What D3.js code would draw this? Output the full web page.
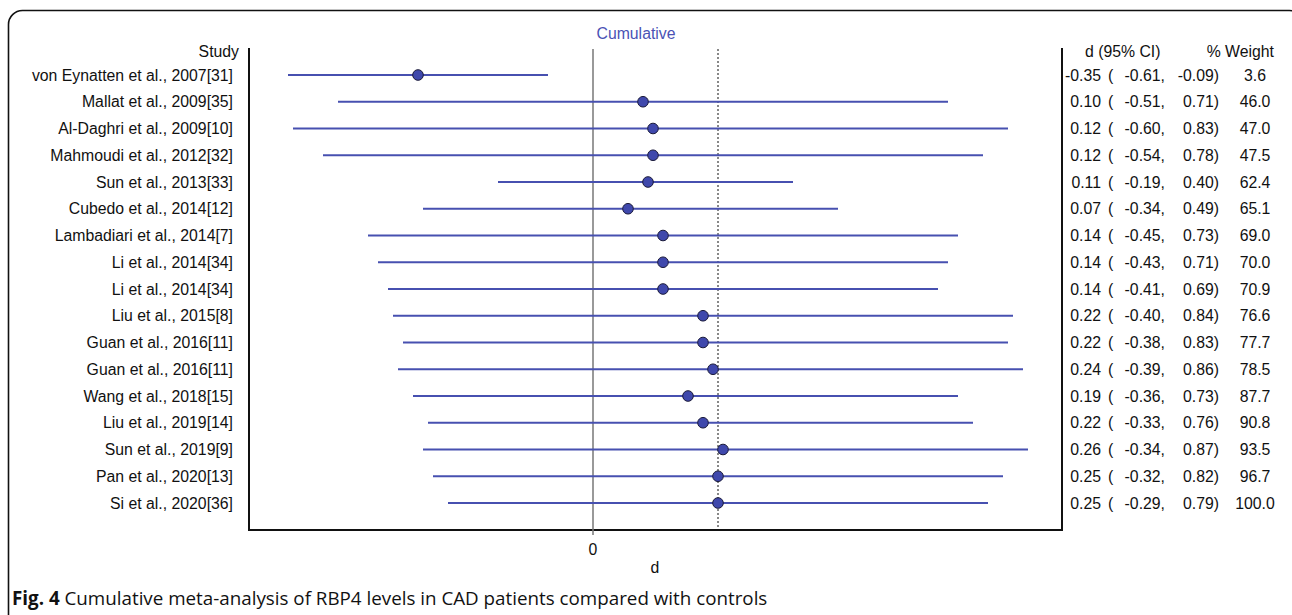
<!DOCTYPE html>
<html>
<head>
<meta charset="utf-8">
<script src="https://cdn.jsdelivr.net/npm/d3@7"></script>
<style>
  body { margin: 0; background: #fff; }
  svg { display: block; }
</style>
</head>
<body>
<div id="container"></div>
<script>
// data
const studies = [
  "von Eynatten et al., 2007[31]", "Mallat et al., 2009[35]", "Al-Daghri et al., 2009[10]",
  "Mahmoudi et al., 2012[32]", "Sun et al., 2013[33]", "Cubedo et al., 2014[12]",
  "Lambadiari et al., 2014[7]", "Li et al., 2014[34]", "Li et al., 2014[34]",
  "Liu et al., 2015[8]", "Guan et al., 2016[11]", "Guan et al., 2016[11]",
  "Wang et al., 2018[15]", "Liu et al., 2019[14]", "Sun et al., 2019[9]",
  "Pan et al., 2020[13]", "Si et al., 2020[36]"
];
const dValues = [-0.35, 0.10, 0.12, 0.12, 0.11, 0.07, 0.14, 0.14, 0.14, 0.22, 0.22, 0.24, 0.19, 0.22, 0.26, 0.25, 0.25];
const lower   = [-0.61, -0.51, -0.60, -0.54, -0.19, -0.34, -0.45, -0.43, -0.41, -0.40, -0.38, -0.39, -0.36, -0.33, -0.34, -0.32, -0.29];
const upper   = [-0.09, 0.71, 0.83, 0.78, 0.40, 0.49, 0.73, 0.71, 0.69, 0.84, 0.83, 0.86, 0.73, 0.76, 0.87, 0.82, 0.79];
const weights = [3.6, 46.0, 47.0, 47.5, 62.4, 65.1, 69.0, 70.0, 70.9, 76.6, 77.7, 78.5, 87.7, 90.8, 93.5, 96.7, 100.0];
const overall = 0.25;
const xTicks = [0];

const rows = studies.map((s, i) => ({
  study: s, d: dValues[i], lo: lower[i], hi: upper[i], w: weights[i], i
}));

const width = 1292;
const height = 615;
const font = "'Liberation Sans', Arial, sans-serif";
const fontSize = 15.8;
const blue = "#4750b0";

const svg = d3.select("#container").append("svg")
  .attr("width", width)
  .attr("height", height);

// outer rounded frame
svg.append("rect")
  .attr("x", 8.5).attr("y", 10.5)
  .attr("width", 1295).attr("height", 640)
  .attr("rx", 14)
  .attr("fill", "none")
  .attr("stroke", "#111")
  .attr("stroke-width", 1.6);

// layout
const plot = { left: 249, right: 1062, top: 48, bottom: 530 };

// scales
const scaleX = d3.scaleLinear()
  .domain([-0.688, 0.938])
  .range([plot.left, plot.right]);
const scaleY = d3.scalePoint()
  .domain(rows.map(d => d.i))
  .range([75, 503]);

// plain hyphen minus, like the original
const fmt = v => d3.format(".2f")(v).replace("\u2212", "-");

// title
svg.append("text")
  .attr("x", 636).attr("y", 39)
  .attr("text-anchor", "middle")
  .attr("font-family", font).attr("font-size", fontSize)
  .attr("fill", "#4a52b5")
  .text("Cumulative");

// frame (left, bottom, right)
svg.append("path")
  .attr("d", `M${plot.left},${plot.top}V${plot.bottom}H${plot.right}V${plot.top}`)
  .attr("fill", "none")
  .attr("stroke", "#111")
  .attr("stroke-width", 2);

// zero line
svg.append("line")
  .attr("x1", scaleX(0)).attr("x2", scaleX(0))
  .attr("y1", plot.top + 1).attr("y2", plot.bottom + 5)
  .attr("stroke", "#777").attr("stroke-width", 1.5);

// overall dotted line
svg.append("line")
  .attr("x1", scaleX(overall)).attr("x2", scaleX(overall))
  .attr("y1", plot.top + 1).attr("y2", plot.bottom)
  .attr("stroke", "#111").attr("stroke-width", 1)
  .attr("stroke-dasharray", "2,2");

// x axis tick labels
svg.append("g").selectAll("text")
  .data(xTicks)
  .join("text")
  .attr("x", d => scaleX(d)).attr("y", 555)
  .attr("text-anchor", "middle")
  .attr("font-family", font).attr("font-size", fontSize)
  .attr("fill", "#111")
  .text(d => d);
svg.append("text")
  .attr("x", 655).attr("y", 573)
  .attr("text-anchor", "middle")
  .attr("font-family", font).attr("font-size", fontSize)
  .attr("fill", "#111")
  .text("d");

// CI lines
svg.append("g").selectAll("line")
  .data(rows)
  .join("line")
  .attr("x1", d => scaleX(d.lo)).attr("x2", d => scaleX(d.hi))
  .attr("y1", d => scaleY(d.i)).attr("y2", d => scaleY(d.i))
  .attr("stroke", blue).attr("stroke-width", 2);

// points
svg.append("g").selectAll("circle")
  .data(rows)
  .join("circle")
  .attr("cx", d => scaleX(d.d)).attr("cy", d => scaleY(d.i))
  .attr("r", 5.3)
  .attr("fill", "#3f48ac")
  .attr("stroke", "#1a1a3a").attr("stroke-width", 1);

// left labels
const textAttrs = sel => sel
  .attr("font-family", font).attr("font-size", fontSize)
  .attr("fill", "#111")
  .attr("dominant-baseline", "central");

svg.append("text").call(textAttrs)
  .attr("x", 239).attr("y", 51)
  .attr("text-anchor", "end")
  .text("Study");
svg.append("g").selectAll("text")
  .data(rows)
  .join("text").call(textAttrs)
  .attr("x", 233).attr("y", d => scaleY(d.i))
  .attr("text-anchor", "end")
  .text(d => d.study);

// right table
svg.append("text").call(textAttrs)
  .attr("x", 1085).attr("y", 51)
  .text("d (95% CI)");
svg.append("text").call(textAttrs)
  .attr("x", 1274).attr("y", 51)
  .attr("text-anchor", "end")
  .text("% Weight");

const table = svg.append("g").selectAll("g")
  .data(rows)
  .join("g")
  .attr("transform", d => `translate(0,${scaleY(d.i)})`);
table.append("text").call(textAttrs)
  .attr("x", 1101).attr("text-anchor", "end")
  .text(d => fmt(d.d));
table.append("text").call(textAttrs)
  .attr("x", 1108)
  .text("(");
table.append("text").call(textAttrs)
  .attr("x", 1165).attr("text-anchor", "end")
  .text(d => fmt(d.lo) + ",");
table.append("text").call(textAttrs)
  .attr("x", 1219).attr("text-anchor", "end")
  .text(d => fmt(d.hi) + ")");
table.append("text").call(textAttrs)
  .attr("x", 1255).attr("text-anchor", "middle")
  .text(d => d.w.toFixed(1));

// caption
const caption = svg.append("text")
  .attr("x", 12).attr("y", 605)
  .attr("font-family", "'Open Sans', 'Noto Sans', sans-serif")
  .attr("font-size", 18.8)
  .attr("fill", "#111");
caption.append("tspan").attr("font-weight", "bold").text("Fig. 4");
caption.append("tspan").text(" Cumulative meta-analysis of RBP4 levels in CAD patients compared with controls");
</script>
</body>
</html>
